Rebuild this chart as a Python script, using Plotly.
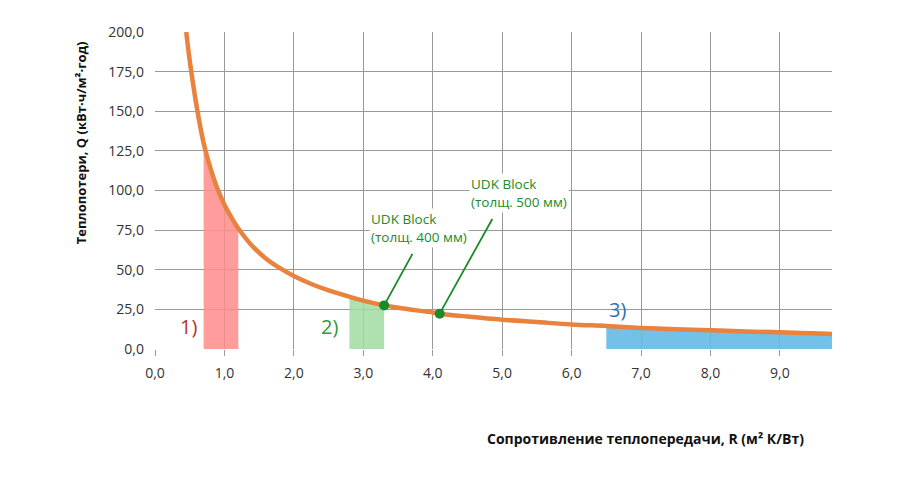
import plotly.graph_objects as go

# curve: R (m2 K/W) -> Q (kWh/m2 per year)
r_vals = [0.45, 0.5, 0.6, 0.7, 0.8, 0.9, 1.0, 1.1, 1.2, 1.4, 1.6, 1.8, 2.0, 2.25, 2.5,
          2.8, 3.0, 3.3, 3.5, 4.0, 4.1, 4.5, 5.0, 5.5, 6.0, 6.5, 7.0, 7.5, 8.0,
          8.5, 9.0, 9.5, 9.75]
q_vals = [200, 182, 153, 130, 114, 101, 91, 83, 76, 65, 57, 51, 46, 41, 37,
          33, 30.5, 27.5, 26, 23, 22.3, 20.5, 18.5, 17, 15.5, 14.5, 13.3, 12.5, 11.8,
          11.1, 10.5, 10, 9.5]

# highlighted ranges
zones = [(0.7, 1.2), (2.8, 3.3), (6.5, 9.75)]
zone_fill = ["rgba(255,140,140,0.85)", "rgba(160,220,160,0.85)", "rgba(100,185,230,0.9)"]
zone_marks = ["1)", "2)", "3)"]
zone_ticks = [["0,7", "1,2"], ["2,8", "3,3"], ["> 6,5"]]
zone_text_col = ["#b83228", "#2e9a3a", "#2e6fb5"]

# UDK Block points
udk_r = [3.3, 4.1]
udk_q = [27.5, 22.3]
udk_text = ["UDK Block<br>(толщ. 400 мм)", "UDK Block<br>(толщ. 500 мм)"]

x_ticks = [0, 1, 2, 3, 4, 5, 6, 7, 8, 9]
y_ticks = [0, 25, 50, 75, 100, 125, 150, 175, 200]

fig = go.Figure()

for (lo, hi), col in zip(zones, zone_fill):
    xs = [r for r in r_vals if lo <= r <= hi]
    ys = [q for r, q in zip(r_vals, q_vals) if lo <= r <= hi]
    fig.add_trace(go.Scatter(x=[xs[0]] + xs + [xs[-1]], y=[0] + ys + [0],
                             fill="toself", fillcolor=col, mode="lines",
                             line=dict(width=0), hoverinfo="skip"))

fig.add_trace(go.Scatter(x=r_vals, y=q_vals, mode="lines",
                         line=dict(color="#e8823c", width=4.5, shape="spline")))

fig.add_trace(go.Scatter(x=udk_r, y=udk_q, mode="markers",
                         marker=dict(color="#1b8a2a", size=10)))

font = "Open Sans"

# labels 1) 2) 3)
mark_pos = [(0.48, 14), (2.52, 14), (6.66, 25)]
for (mx, my), t, c in zip(mark_pos, zone_marks, zone_text_col):
    fig.add_annotation(x=mx, y=my, text=t, showarrow=False,
                       font=dict(size=20, color=c, family=font))

# range labels under the axis
for (lo, hi), labs, c in zip(zones, zone_ticks, zone_text_col):
    pos = [lo, hi] if len(labs) == 2 else [lo]
    for p, lab in zip(pos, labs):
        fig.add_annotation(x=p, y=-30, text=lab, showarrow=False,
                           font=dict(size=13.5, color=c, family=font))

# UDK callouts: text corner and line start
text_pos = [(3.08, 64), (4.52, 86)]
line_start = [(3.72, 61), (4.87, 83)]
for (tx, ty), (lx, ly), t, px, py in zip(text_pos, line_start, udk_text, udk_r, udk_q):
    fig.add_annotation(x=px, y=py, ax=lx, ay=ly, axref="x", ayref="y",
                       text="", showarrow=True, arrowhead=0, arrowwidth=1.8,
                       arrowcolor="#1b8a2a", standoff=4)
    fig.add_annotation(x=tx, y=ty, text=t, showarrow=False, align="left",
                       xanchor="left", yanchor="bottom",
                       font=dict(size=13.5, color="#1b8a2a", family=font),
                       bgcolor="white")

fig.add_annotation(x=-0.125, xref="paper", y=0.65, yref="paper",
                   text="<b>Теплопотери, Q (кВт·ч/м²·год)</b>", textangle=-90,
                   showarrow=False, font=dict(size=13, color="#111", family=font))
fig.add_annotation(x=0.725, xref="paper", y=-0.32, yref="paper", xanchor="center",
                   text="<b>Сопротивление теплопередачи, R (м² К/Вт)</b>",
                   showarrow=False, font=dict(size=14, color="#111", family=font))

fig.update_xaxes(range=[0, 9.75], tickvals=x_ticks,
                 ticktext=[f"{v},0" for v in x_ticks],
                 showgrid=True, gridcolor="#9a9a9a", gridwidth=1,
                 ticks="outside", ticklen=6, tickcolor="#9a9a9a",
                 zeroline=False, showline=False, ticklabelstandoff=5,
                 tickfont=dict(size=14, color="#333", family=font))
fig.update_yaxes(range=[0, 200], tickvals=y_ticks,
                 ticktext=[f"{v},0" for v in y_ticks],
                 showgrid=True, gridcolor="#9a9a9a", gridwidth=1,
                 zeroline=False, showline=False, ticks="", ticklabelstandoff=10,
                 tickfont=dict(size=14, color="#333", family=font))

# page body adds 8 px, margins compensate
fig.update_layout(width=906, height=483, showlegend=False,
                  plot_bgcolor="white", paper_bgcolor="white",
                  margin=dict(l=147, r=82, t=24, b=142))

fig.write_html("out.html")
